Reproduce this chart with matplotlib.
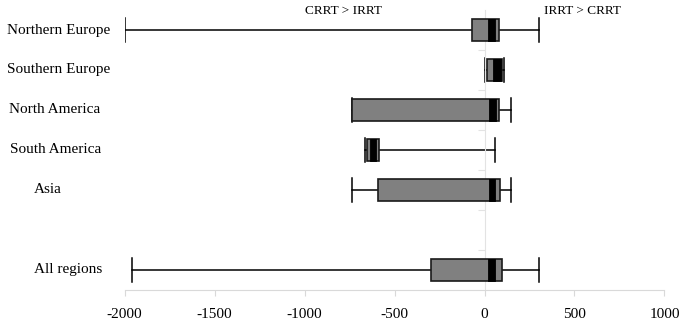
import matplotlib.pyplot as plt
from matplotlib.transforms import blended_transform_factory

regions = ['Northern Europe', 'Southern Europe', 'North America',
           'South America', 'Asia', 'All regions']
rows = [0, 1, 2, 3, 4, 6]  # row 5 left empty like the original

whisker_lo = [-2000, 2, -735, -665, -739, -1960]
q1 = [-72, 11, -735, -654, -591, -297]
band_lo = [20, 48, 26, -634, 24, 22]
band_hi = [59, 94, 63, -604, 57, 59]
q3 = [78, 98, 81, -587, 87, 98]
whisker_hi = [300, 109, 148, 57, 148, 300]

xticks = [-2000, -1500, -1000, -500, 0, 500, 1000]
xtick_labels = ['-2000', '-1500', '-1000', '-500', '0', '500', '1000']

plt.rcParams['font.family'] = ['Liberation Serif', 'DejaVu Serif']

fig = plt.figure(figsize=(6.85, 3.28), dpi=100)
ax = fig.add_axes([0.182, 0.1159, 0.788, 0.8536])

box_h = 0.55
cap_h = 0.62
for i, y in enumerate(rows):
    # whisker line and caps
    ax.plot([whisker_lo[i], whisker_hi[i]], [y, y], color='black', lw=1.1, zorder=2)
    ax.plot([whisker_lo[i]] * 2, [y - cap_h / 2, y + cap_h / 2], color='black', lw=1.1, zorder=2)
    ax.plot([whisker_hi[i]] * 2, [y - cap_h / 2, y + cap_h / 2], color='black', lw=1.1, zorder=2)
    # box
    ax.barh(y, q3[i] - q1[i], left=q1[i], height=box_h, color='#808080',
            edgecolor='#1a1a1a', linewidth=1.2, zorder=3)
    # black band
    ax.barh(y, band_hi[i] - band_lo[i], left=band_lo[i], height=box_h,
            color='black', edgecolor='black', linewidth=0.6, zorder=4)

ax.set_xlim(-2000, 1000)
ax.set_ylim(6.5, -0.5)

ax.set_xticks(xticks)
ax.set_xticklabels(xtick_labels, fontsize=11)
ax.tick_params(axis='x', direction='out', length=4, width=0.8, color='#d9d9d9', pad=9)

# y axis crossing at zero, ticks on the row boundaries
ax.spines['left'].set_position(('data', 0))
ax.spines['left'].set_color('#e3e3e3')
ax.spines['bottom'].set_color('#d9d9d9')
ax.spines['right'].set_visible(False)
ax.spines['top'].set_visible(False)
ax.set_yticks([0.5, 1.5, 2.5, 3.5, 4.5, 5.5])
ax.set_yticklabels([])
ax.tick_params(axis='y', direction='out', length=5, width=0.8, color='#e3e3e3')

# category labels sit at the far left of the figure
trans = blended_transform_factory(fig.transFigure, ax.transData)
label_x = [59, 59, 55, 56, 48, 68]
for i, y in enumerate(rows):
    ax.text(label_x[i] / 685, y, regions[i], transform=trans, ha='center',
            va='center', fontsize=11)

fig.text(343 / 685, 1 - 11 / 328, 'CRRT > IRRT', ha='center', va='center', fontsize=9.5)
fig.text(582 / 685, 1 - 11 / 328, 'IRRT > CRRT', ha='center', va='center', fontsize=9.5)

fig.savefig('out.png', dpi=100)
